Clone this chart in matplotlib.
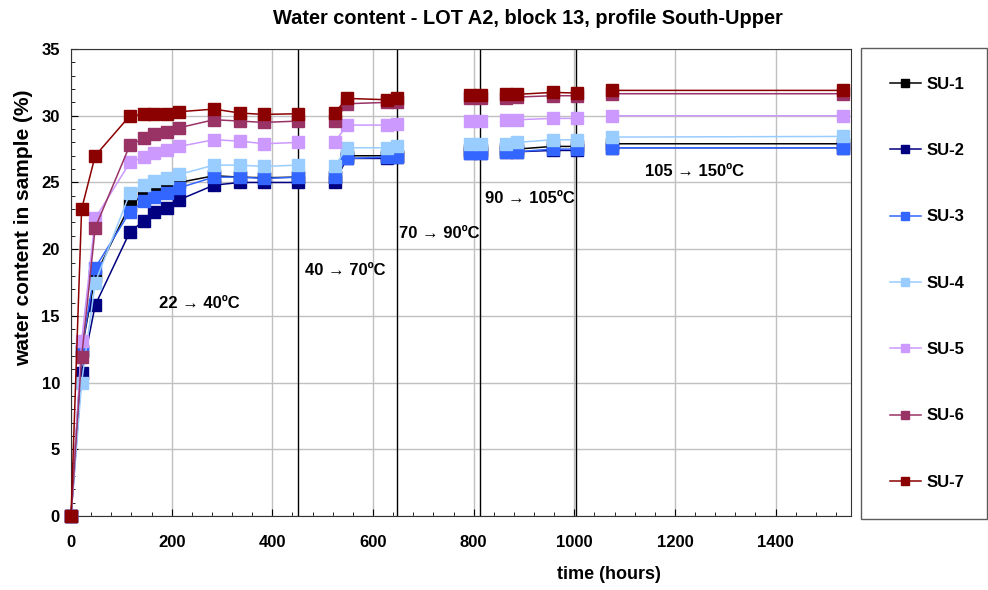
import numpy as np
import matplotlib.pyplot as plt
from matplotlib.ticker import MultipleLocator

plt.rcParams['font.family'] = ['Liberation Sans', 'DejaVu Sans']
plt.rcParams['font.weight'] = 'bold'

nan = np.nan
# sampling times (hours); nan marks a break between heating stages
time_h = [0, 21, 48, 117, 144, 165, 190, 215, 284, 336, 383, 451, nan,
          524, 548, 627, 647, nan, 792, 814, nan, 864, 886, 957, 1005, nan,
          1075, 1533]

su1 = [0, 12.4, 18.0, 23.3, 24.1, 24.5, 24.8, 25.0, 25.5, 25.4, 25.35, 25.4, nan,
       25.4, 27.0, 27.0, 27.0, nan, 27.4, 27.4, nan, 27.5, 27.5, 27.7, 27.7, nan,
       27.9, 27.9]
su2 = [0, 10.7, 15.8, 21.3, 22.1, 22.8, 23.1, 23.7, 24.8, 25.0, 25.0, 25.0, nan,
       25.0, 26.8, 26.8, 26.9, nan, 27.2, 27.2, nan, 27.3, 27.3, 27.4, 27.4, nan,
       27.6, 27.6]
su3 = [0, 12.4, 18.6, 22.8, 23.6, 23.9, 24.2, 24.6, 25.4, 25.4, 25.3, 25.4, nan,
       25.4, 26.8, 26.9, 26.9, nan, 27.2, 27.2, nan, 27.3, 27.3, 27.5, 27.5, nan,
       27.6, 27.6]
su4 = [0, 10.0, 17.5, 24.2, 24.8, 25.1, 25.3, 25.6, 26.3, 26.3, 26.2, 26.3, nan,
       26.2, 27.6, 27.6, 27.7, nan, 27.9, 27.9, nan, 27.9, 28.0, 28.2, 28.2, nan,
       28.4, 28.45]
su5 = [0, 13.1, 22.3, 26.5, 26.9, 27.2, 27.4, 27.7, 28.2, 28.1, 27.9, 28.0, nan,
       28.0, 29.3, 29.3, 29.4, nan, 29.6, 29.6, nan, 29.7, 29.7, 29.8, 29.8, nan,
       30.0, 30.0]
su6 = [0, 11.9, 21.6, 27.8, 28.3, 28.6, 28.8, 29.1, 29.7, 29.6, 29.5, 29.6, nan,
       29.6, 30.9, 31.0, 31.0, nan, 31.3, 31.3, nan, 31.3, 31.4, 31.5, 31.5, nan,
       31.65, 31.65]
su7 = [0, 23.0, 27.0, 30.0, 30.1, 30.15, 30.1, 30.3, 30.5, 30.2, 30.1, 30.15, nan,
       30.2, 31.3, 31.2, 31.3, nan, 31.55, 31.55, nan, 31.6, 31.6, 31.75, 31.7, nan,
       31.9, 31.9]

labels = ['SU-1', 'SU-2', 'SU-3', 'SU-4', 'SU-5', 'SU-6', 'SU-7']
series = [su1, su2, su3, su4, su5, su6, su7]
colors = ['#000000', '#000080', '#3366ff', '#99ccff', '#cc99ff', '#993366', '#8b0000']

# temperature step changes (hours) and stage captions
steps = [451, 647, 812, 1003]
stages = [(175, 15.9, '22 → 40ºC'), (465, 18.4, '40 → 70ºC'),
          (652, 21.2, '70 → 90ºC'), (822, 23.8, '90 → 105ºC'),
          (1140, 25.8, '105 → 150ºC')]

fig = plt.figure(figsize=(9.88, 5.9), dpi=100)
ax = fig.add_axes([0.0719, 0.1254, 0.7895, 0.7915])

for lab, ys, c in zip(labels, series, colors):
    ax.plot(time_h, ys, color=c, lw=1.1, marker='s', ms=9, mec=c, mfc=c,
            label=lab, clip_on=False, zorder=3)

for s in steps:
    ax.axvline(s, color='black', lw=1.0, zorder=2)

for x, y, t in stages:
    ax.text(x, y, t, fontsize=12, fontweight='bold', ha='left', va='center')

ax.set_xlim(0, 1550)
ax.set_ylim(0, 35)
ax.xaxis.set_major_locator(MultipleLocator(200))
ax.xaxis.set_minor_locator(MultipleLocator(40))
ax.yaxis.set_major_locator(MultipleLocator(5))
ax.yaxis.set_minor_locator(MultipleLocator(1))
ax.tick_params(which='both', direction='in', labelsize=12)
ax.tick_params(axis='x', pad=14)
ax.tick_params(axis='y', pad=8)
ax.tick_params(which='major', length=5)
ax.tick_params(which='minor', length=3)
for lbl in ax.get_xticklabels() + ax.get_yticklabels():
    lbl.set_fontweight('bold')
ax.grid(True, which='major', color='#c0c0c0', lw=1, zorder=0)
ax.set_axisbelow(True)
for sp in ax.spines.values():
    sp.set_color('#333333')

ax.set_xlabel('time (hours)', fontsize=13, fontweight='bold')
ax.xaxis.set_label_coords(0.69, -0.107)
ax.set_ylabel('water content in sample (%)', fontsize=15, fontweight='bold')
ax.yaxis.set_label_coords(-0.049, 0.617)
fig.text(0.534, 1 - 19 / 590, 'Water content - LOT A2, block 13, profile South-Upper',
         fontsize=14.4, fontweight='bold', ha='center', va='center')

leg = fig.legend(loc='upper left', bbox_to_anchor=(0.8715, 0.122, 0.127, 0.797),
                 mode='expand', fontsize=12, labelspacing=3.08, handlelength=1.83,
                 handletextpad=0.37, borderpad=1.74, markerscale=0.7,
                 fancybox=False, edgecolor='#333333', borderaxespad=0)
leg.get_frame().set_linewidth(1.0)
for t in leg.get_texts():
    t.set_fontweight('bold')

fig.savefig('out.png', dpi=100)
